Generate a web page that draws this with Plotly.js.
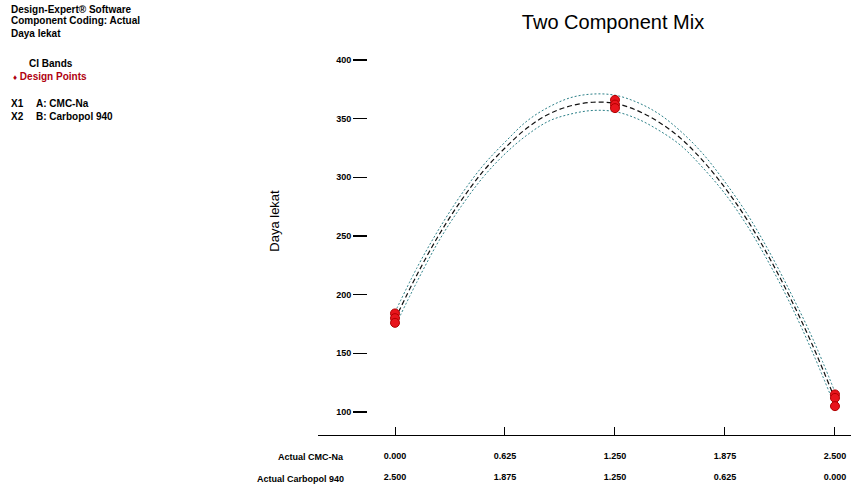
<!DOCTYPE html>
<html>
<head>
<meta charset="utf-8">
<script src="https://cdn.plot.ly/plotly-3.0.1.min.js"></script>
<style>html,body{margin:0;padding:0;background:#fff;}#chart{width:851px;height:490px;}</style>
</head>
<body>
<div id="chart"></div>
<script>
// ---- data ----
const fitX = [0, 0.125, 0.25, 0.375, 0.5, 0.625, 0.75, 0.875, 1.0, 1.125, 1.25, 1.375, 1.5, 1.625, 1.75, 1.875, 2.0, 2.125, 2.25, 2.375, 2.5];
const fitY = [179, 217, 251, 280, 305, 325, 342, 354, 361, 364, 363, 357, 347, 333, 314, 291, 264, 232, 196, 156, 111];
const ciUpper = [185, 223, 256, 285, 310, 330, 348, 360, 368, 371, 370, 364, 354, 339, 320, 296, 269, 237, 201, 162, 117];
const ciLower = [173, 211, 246, 275, 300, 320, 336, 348, 354, 357, 356, 350, 340, 327, 308, 286, 259, 227, 191, 150, 105];
const designX = [0, 0, 0, 1.25, 1.25, 1.25, 2.5, 2.5, 2.5];
const designY = [184, 180, 176, 366, 362, 359, 115, 112, 105];
const xTickVals = [0, 0.625, 1.25, 1.875, 2.5];
const cmcLabels = ['0.000', '0.625', '1.250', '1.875', '2.500'];
const carbopolLabels = ['2.500', '1.875', '1.250', '0.625', '0.000'];
const yTickVals = [100, 150, 200, 250, 300, 350, 400];
const yTickText = ['100', '150', '200', '250', '300', '350', '400'];

// ---- layout geometry (pixels) ----
const W = 851, H = 490;
const ML = 318, MR = 0, MT = 7, MB = 20;
const PW = W - ML - MR, PH = H - MT - MB;
const px = x => (x - ML) / PW;
const py = y => (H - MB - y) / PH;

const tickFont = {family: 'Liberation Sans Narrow, Liberation Sans, Arial', size: 9, color: '#000', weight: 'bold'};
const annFont = {family: 'Liberation Sans Narrow, Liberation Sans, Arial', size: 10, color: '#000', weight: 'bold'};

const traces = [
  {x: fitX, y: ciUpper, type: 'scatter', mode: 'lines', line: {color: '#2c8088', width: 1, dash: '2px,2px', shape: 'spline'}, hoverinfo: 'skip', showlegend: false},
  {x: fitX, y: ciLower, type: 'scatter', mode: 'lines', line: {color: '#2c8088', width: 1, dash: '2px,2px', shape: 'spline'}, hoverinfo: 'skip', showlegend: false},
  {x: fitX, y: fitY, type: 'scatter', mode: 'lines', line: {color: '#111', width: 1.2, dash: '5px,3px', shape: 'spline'}, showlegend: false},
  {x: designX, y: designY, xaxis: 'x2', type: 'scatter', mode: 'markers', marker: {color: '#e8141c', size: 9, line: {color: '#b00000', width: 1}}, showlegend: false}
];

function ann(text, x, y, anchor, font) {
  return {text: text, xref: 'paper', yref: 'paper', x: px(x), y: py(y), xanchor: anchor, yanchor: 'middle', showarrow: false, font: font || annFont};
}

const layout = {
  width: W, height: H,
  margin: {l: ML, r: MR, t: MT, b: MB, pad: 0},
  paper_bgcolor: '#fff', plot_bgcolor: '#fff',
  showlegend: false,
  title: {text: 'Two Component Mix', font: {family: 'Liberation Sans, Arial', size: 20, color: '#000'},
          xref: 'paper', x: px(613), xanchor: 'center', yref: 'container', y: 1 - 22 / H, yanchor: 'middle'},
  xaxis: {
    range: [-0.4375, 2.591], domain: [0, 1], anchor: 'y',
    showline: true, linecolor: '#000', linewidth: 1.2, mirror: false,
    showgrid: false, zeroline: false,
    tickmode: 'array', tickvals: xTickVals, ticktext: cmcLabels,
    ticks: 'inside', ticklen: 8, tickcolor: '#000', tickwidth: 1,
    tickfont: tickFont, ticklabelstandoff: 12
  },
  xaxis2: {
    range: [-0.4375, 2.591], overlaying: 'x', anchor: 'free', position: 0, side: 'bottom',
    showline: false, showgrid: false, zeroline: false,
    tickmode: 'array', tickvals: xTickVals, ticktext: carbopolLabels,
    ticks: '', tickfont: tickFont
  },
  yaxis: {
    range: [80.4, 445.17], domain: [35 / PH, 1], anchor: 'free', position: px(367),
    showline: false, showgrid: false, zeroline: false,
    tickmode: 'array', tickvals: yTickVals, ticktext: yTickText,
    ticks: 'outside', ticklen: 14, tickcolor: '#000', tickwidth: 1.2,
    tickfont: tickFont,
    title: {text: 'Daya lekat', font: {family: 'Liberation Sans, Arial', size: 13, color: '#000'}, standoff: 52}
  },
  annotations: [
    ann('Design-Expert® Software', 9, 9, 'left'),
    ann('Component Coding: Actual', 9, 21, 'left'),
    ann('Daya lekat', 9, 33, 'left'),
    ann('CI Bands', 27, 64, 'left'),
    ann('<span style="font-size:8px">♦</span> Design Points', 11, 76, 'left', Object.assign({}, annFont, {color: '#b00010'})),
    ann('X1', 9, 103, 'left'),
    ann('A: CMC-Na', 34, 103, 'left'),
    ann('X2', 9, 116, 'left'),
    ann('B: Carbopol 940', 34, 116, 'left'),
    ann('Actual CMC-Na', 346, 457, 'right', Object.assign({}, annFont, {size: 9})),
    ann('Actual Carbopol 940', 346, 479, 'right', Object.assign({}, annFont, {size: 9}))
  ]
};

Plotly.newPlot('chart', traces, layout, {displayModeBar: false, staticPlot: true});
</script>
</body>
</html>
